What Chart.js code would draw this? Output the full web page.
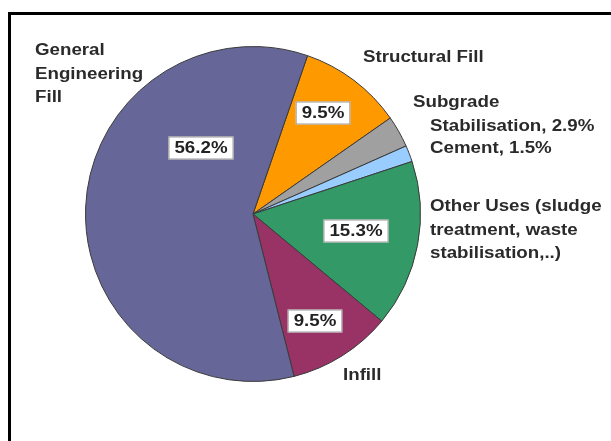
<!DOCTYPE html>
<html>
<head>
<meta charset="utf-8">
<script src="https://cdn.jsdelivr.net/npm/chart.js@4.4.1/dist/chart.umd.min.js"></script>
<style>
  html, body { margin: 0; padding: 0; background: #ffffff; }
  #wrap { position: relative; width: 611px; height: 441px; overflow: hidden; }
  #frame {
    position: absolute; left: 8px; top: 12px; width: 700px; height: 500px;
    border-left: 3px solid #000; border-top: 3px solid #000; box-sizing: border-box;
  }
  canvas { position: absolute; left: 0; top: 0; }
</style>
</head>
<body>
<div id="wrap">
  <div id="frame"></div>
  <canvas id="c" width="611" height="441"></canvas>
</div>
<script>
// Uses of the material, in drawing order (clockwise from the top)
const categories = [
  'Structural Fill',
  'Subgrade Stabilisation',
  'Cement',
  'Other Uses (sludge treatment, waste stabilisation,..)',
  'Infill',
  'General Engineering Fill'
];
const shares = [9.5, 2.9, 1.5, 15.3, 9.5, 56.2];
const sliceColors = ['#FF9900', '#A0A0A0', '#99CCFF', '#339966', '#993366', '#666699'];

// Text beside the pie: lines for each slice
const outerLabels = [
  ['Structural Fill'],
  ['Subgrade', '  Stabilisation, 2.9%'],
  ['  Cement, 1.5%'],
  ['  Other Uses (sludge', '  treatment, waste', '  stabilisation,..)'],
  ['Infill'],
  ['General', 'Engineering', 'Fill']
];
// Which slices carry a boxed percentage inside them
const boxedSlices = [0, 3, 4, 5];

// Placement of the annotations, relative to the pie centre (px)
const outerPlace = [
  { dx: 110, dy: -152 },
  { dx: 160, dy: -107 },
  { dx: 160, dy: -61 },
  { dx: 160, dy: -3 },
  { dx: 90, dy: 166 },
  { dx: -218, dy: -159 }
];
const boxPlace = { 0: { dx: 70, dy: -101 }, 3: { dx: 103, dy: 17 }, 4: { dx: 62, dy: 107 }, 5: { dx: -52, dy: -66 } };
const lineGap = 23.5;
const FONT = 'bold 16px "Liberation Sans", Arial, sans-serif';
const STRETCH = 1.17;

function stretchedWidth(ctx, s) { return ctx.measureText(s).width * STRETCH; }
function drawStretched(ctx, s, x, y) {
  ctx.save();
  ctx.translate(x, y);
  ctx.scale(STRETCH, 1);
  ctx.fillText(s, 0, 0);
  ctx.restore();
}

const annotations = {
  id: 'annotations',
  afterDatasetsDraw(chart) {
    const ctx = chart.ctx;
    const meta = chart.getDatasetMeta(0);
    const cx = meta.data[0].x, cy = meta.data[0].y;
    ctx.save();
    ctx.font = FONT;
    ctx.textBaseline = 'alphabetic';
    ctx.textAlign = 'left';
    ctx.fillStyle = '#2a2a2a';
    outerLabels.forEach((lines, i) => {
      const p = outerPlace[i];
      lines.forEach((ln, k) => {
        let x = cx + p.dx;
        let s = ln;
        if (s.startsWith('  ')) { s = s.trim(); x += 17; }
        drawStretched(ctx, s, x, cy + p.dy + k * lineGap);
      });
    });
    ctx.textBaseline = 'middle';
    boxedSlices.forEach(i => {
      const p = boxPlace[i];
      const txt = shares[i].toFixed(1) + '%';
      const w = stretchedWidth(ctx, txt) + 12;
      const h = 23;
      const bx = cx + p.dx - w / 2, by = cy + p.dy - h / 2;
      ctx.fillStyle = '#ffffff';
      ctx.fillRect(bx, by, w, h);
      ctx.strokeStyle = '#9a9a9a';
      ctx.lineWidth = 1;
      ctx.strokeRect(bx + 0.5, by + 0.5, w - 1, h - 1);
      ctx.fillStyle = '#222222';
      drawStretched(ctx, txt, bx + 6, cy + p.dy + 1);
    });
    ctx.restore();
  }
};

new Chart(document.getElementById('c'), {
  type: 'pie',
  data: {
    labels: categories,
    datasets: [{
      data: shares,
      backgroundColor: sliceColors,
      borderColor: '#3a3a3a',
      borderWidth: 1
    }]
  },
  options: {
    responsive: false,
    animation: false,
    rotation: 19,
    layout: { padding: { left: 85, right: 190, top: 46, bottom: 59 } },
    plugins: { legend: { display: false }, tooltip: { enabled: false } }
  },
  plugins: [annotations]
});
</script>
</body>
</html>
